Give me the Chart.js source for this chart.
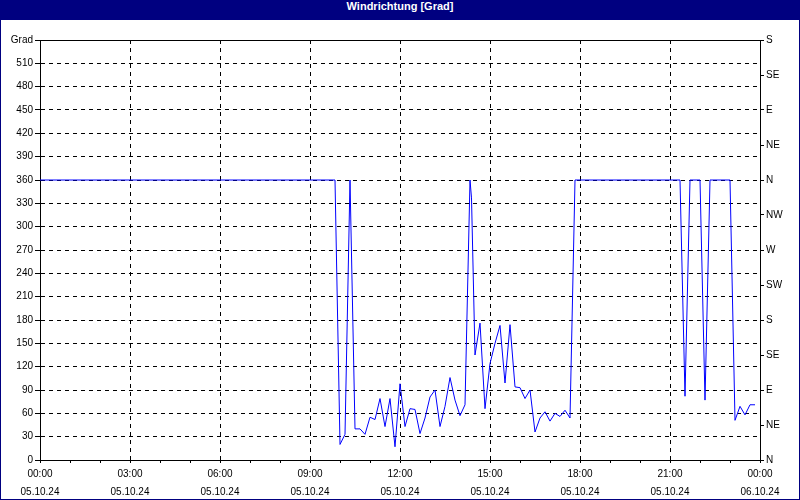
<!DOCTYPE html>
<html>
<head>
<meta charset="utf-8">
<script src="https://cdn.jsdelivr.net/npm/chart.js@4"></script>
<style>
  html, body { margin: 0; padding: 0; background: #fff; }
  #frame {
    width: 800px; height: 500px; box-sizing: border-box;
    border: 1px solid #000080; border-top: none; background: #fff;
  }
  #title {
    height: 20px; line-height: 20px; background: #000080; color: #fff;
    font: bold 11px "Liberation Sans", Arial, sans-serif; text-align: center;
  }
  #wind-chart { display: block; }
</style>
</head>
<body>
<div id="frame">
  <div id="title">Windrichtung [Grad]</div>
  <canvas id="wind-chart" width="798" height="479"></canvas>
</div>
<script>
// minutes since 05.10.24 00:00 and wind direction in degrees
const times = [0, 590, 600, 610, 620, 630, 640, 650, 660, 670, 680, 690, 700, 710, 720, 730, 740,
  750, 760, 770, 780, 790, 800, 810, 820, 830, 840, 850, 860, 863, 870, 880, 890, 900, 910, 920,
  930, 940, 950, 960, 970, 980, 990, 1000, 1010, 1020, 1030, 1040, 1050, 1060, 1070,
  1280, 1290, 1300, 1320, 1330, 1340, 1380, 1390, 1400, 1410, 1420, 1430];
const dirs = [360, 360, 20, 33, 360, 40, 40, 33, 55, 52, 79, 43, 79, 17, 98, 43, 66,
  65, 34, 54, 81, 90, 43, 69, 106, 77, 57, 71, 360, 337, 135, 176, 66, 124, 150, 173,
  99, 174, 94, 93, 79, 90, 36, 54, 62, 50, 60, 56, 64, 54, 360,
  360, 82, 360, 360, 77, 360, 360, 51, 69, 58, 71, 71];

const time_labels = ["00:00", "03:00", "06:00", "09:00", "12:00", "15:00", "18:00", "21:00", "00:00"];
const date_labels = ["05.10.24", "05.10.24", "05.10.24", "05.10.24", "05.10.24", "05.10.24", "05.10.24", "05.10.24", "06.10.24"];
const compass_labels = ["N", "NE", "E", "SE", "S", "SW", "W", "NW", "N", "NE", "E", "SE", "S"];

const font = { family: "'Liberation Sans', Arial, sans-serif", size: 10 };

new Chart(document.getElementById("wind-chart"), {
  type: 'line',
  data: {
    datasets: [{
      data: times.map((t, i) => ({ x: t, y: dirs[i] })),
      borderColor: '#0000ff',
      borderWidth: 1,
      pointRadius: 0,
      tension: 0,
      fill: false
    }]
  },
  options: {
    responsive: false,
    animation: false,
    layout: { padding: { top: 20, left: 0, right: 0, bottom: 0 } },
    plugins: {
      legend: { display: false },
      tooltip: { enabled: false }
    },
    scales: {
      x: {
        type: 'linear',
        min: 0,
        max: 1440,
        afterFit: s => { s.height = 39; },
        ticks: {
          stepSize: 60,
          autoSkip: false,
          maxRotation: 0,
          padding: 2,
          color: '#000',
          font: { ...font, lineHeight: 1.8 },
          callback: v => v % 180 === 0 ? [time_labels[v / 180], date_labels[v / 180]] : ''
        },
        grid: {
          color: c => (c.tick && c.tick.value % 180 === 0) ? '#000' : 'rgba(0,0,0,0)',
          tickColor: '#000',
          tickLength: 3
        },
        border: { color: '#000', dash: [4, 4] }
      },
      y: {
        position: 'left',
        min: 0,
        max: 540,
        afterFit: s => { s.width = 39; },
        ticks: {
          stepSize: 30,
          autoSkip: false,
          maxTicksLimit: 100,
          padding: 2,
          color: '#000',
          font: font,
          callback: v => v === 540 ? 'Grad' : v
        },
        grid: {
          color: '#000',
          tickColor: '#000',
          tickLength: 5
        },
        border: {
          color: '#000',
          dash: c => (c.tick && c.tick.value === 540) ? [] : [4, 4]
        }
      },
      y2: {
        position: 'right',
        min: 0,
        max: 540,
        afterFit: s => { s.width = 39; },
        ticks: {
          stepSize: 45,
          autoSkip: false,
          maxTicksLimit: 100,
          padding: 2,
          color: '#000',
          font: font,
          callback: (v, i) => compass_labels[i]
        },
        grid: {
          drawOnChartArea: false,
          tickColor: '#000',
          tickLength: 4
        },
        border: { color: '#000' }
      }
    }
  }
});
</script>
</body>
</html>
